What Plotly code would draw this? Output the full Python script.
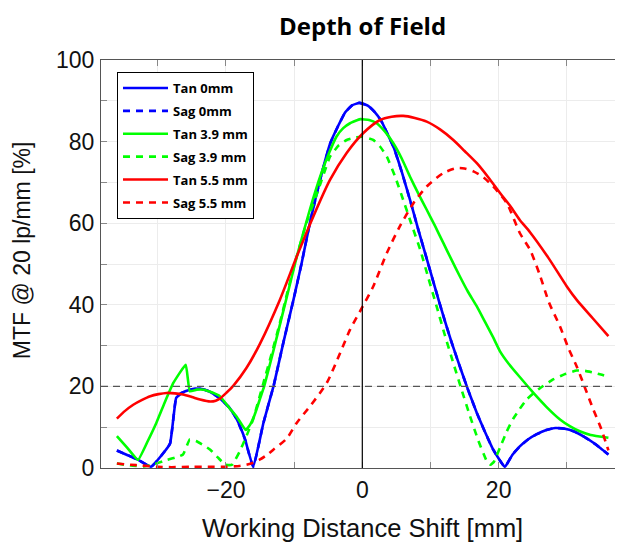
import plotly.graph_objects as go

# ---- data ----
tan0_x = [-36, -34.5, -33, -31, -29.5, -28.2, -27.3, -26.5, -25.3, -23.8, -22.5, -21, -19.5, -18.4, -17.2, -16,
          -14.5, -13, -11.6, -10.1, -8.9, -7.7, -6.2, -4.7, -3.5, -2.5, -1.5, -0.4, 0.8, 1.8, 2.8, 3.8, 4.6, 5.8,
          7, 8.2, 9.5, 10.7, 11.9, 13.1, 14.3, 15.5, 16.8, 18, 19.2, 20.9, 22, 23.1, 24.3, 25.6, 27, 28.3, 29.7,
          31, 32.5, 33.9, 35, 36.1]
tan0_y = [4.3, 3.2, 2.1, 0.3, 3.0, 6.0, 17.2, 18.4, 19.2, 19.5, 18.8, 17.2, 14.8, 11.9, 7.0, 0.3,
          11.1, 20.2, 30.6, 41.2, 50.2, 60.0, 70.6, 79.6, 84.0, 87.2, 88.9, 89.5, 88.8, 87.3, 85.0, 81.5, 78.6, 72.5,
          65.7, 58.5, 51.0, 44.0, 37.2, 30.8, 24.9, 19.2, 13.5, 8.8, 4.5, 0.3, 3.2, 5.3, 7.0, 8.3, 9.3, 9.8, 9.6,
          9.0, 7.7, 6.2, 4.8, 3.3]

sag0_x = list(tan0_x)
sag0_y = [4.3, 3.2, 2.1, 0.3, 3.0, 6.0, 17.2, 18.4, 19.2, 19.5, 18.8, 17.2, 14.8, 11.9, 7.0, 0.3,
          11.1, 20.2, 30.6, 41.2, 50.2, 60.0, 70.6, 79.6, 84.0, 87.2, 88.9, 89.5, 88.8, 87.3, 85.0, 81.5, 78.6, 72.5,
          65.7, 58.5, 51.0, 44.0, 37.2, 30.8, 24.9, 19.2, 13.5, 8.8, 4.5, 0.3, 3.2, 5.3, 7.0, 8.3, 9.3, 9.8, 9.6,
          9.0, 7.7, 6.2, 4.8, 3.3]

tan39_x = [-36, -34.5, -32.9, -31.5, -30.2, -29, -27.7, -25.9, -25.3, -24.3, -23.3, -22, -20.9, -19.4, -18.4,
           -17.1, -16.5, -15.8, -15, -14.4, -13, -11.3, -9.6, -7.7, -6, -4.8, -3.8, -2.8, -1.8, -0.3, 1, 2.1, 3.3,
           4.55, 5.8, 7, 8.2, 9.45, 10.7, 11.9, 13.1, 14.3, 15.5, 16.8, 18, 19.2, 20.2, 21.5, 23.1, 25.1, 27, 29,
           30.5, 31.9, 33.5, 36.1]
tan39_y = [7.8, 5.0, 2.0, 6.5, 11.1, 16.0, 20.9, 25.3, 18.8, 19.2, 19.2, 18.5, 17.6, 14.5, 12.5,
           9.3, 10.5, 13.0, 17.0, 20.0, 29.0, 40.4, 51.9, 63.3, 72.3, 77.5, 81.2, 83.3, 84.5, 85.5, 85.3, 84.5, 82.5,
           79.6, 75.8, 71.4, 67.3, 63.3, 59.2, 55.1, 51.0, 47.0, 43.2, 39.6, 35.8, 32.0, 28.6, 25.5, 22.3, 18.4, 15.0,
           11.9, 10.2, 9.0, 8.1, 7.4]

sag39_x = [-36, -34, -32, -30.9, -29.2, -27.5, -26.3, -25.3, -24.4, -23.3, -22.3, -21.2, -20.1, -19.1, -18, -17,
           -16, -14.5, -13.3, -12.1, -11, -9.9, -8.2, -6.45, -4.74, -3.5, -2.3, -1, 0, 1.6, 2.6, 3.6, 4.8, 6, 7.2,
           8.5, 9.7, 10.9, 12.1, 13.35, 14.6, 15.8, 17, 18.25, 18.8, 19.3, 20.2, 21.2, 22.1, 23.1, 24.1, 26, 28,
           29.7, 31.45, 32.7, 33.9, 35, 36.1]
sag39_y = [1.1, 0.6, 0.4, 0.7, 1.7, 2.5, 3.3, 7.0, 6.6, 5.6, 4.5, 2.6, 0.8, 0.8, 4.0, 7.8,
           12.0, 20.9, 28.0, 35.5, 43.0, 50.2, 60.0, 68.2, 76.3, 79.0, 80.4, 81.0, 81.2, 80.4, 78.8, 76.3, 71.5, 65.7,
           59.8, 53.5, 46.5, 39.6, 32.6, 25.7, 19.0, 12.7, 6.8, 1.7, 0.8, 1.5, 5.0, 9.0, 12.0, 14.5, 16.8, 19.5, 21.7,
           23.0, 23.9, 23.8, 23.4, 22.9, 22.3]

tan55_x = [-36, -34.8, -33.6, -32.3, -31.1, -29.9, -28.7, -27.5, -26.3, -25, -23.8, -22.3, -21.5, -20.9, -19.9,
           -18.9, -17, -15, -12.1, -9.6, -7.2, -4.74, -2.3, 0.15, 2.6, 4.3, 6, 7.7, 9.45, 11.4, 13.35, 15, 16.8,
           18.5, 20.2, 21.7, 23.1, 24.6, 27.3, 30, 31.45, 33.8, 36.1]
tan55_y = [12.1, 14.0, 15.5, 16.7, 17.6, 18.1, 18.4, 18.3, 18.0, 17.4, 16.8, 16.3, 16.5, 17.0, 18.5,
           20.2, 24.5, 30.5, 41.2, 51.9, 61.6, 70.6, 77.2, 82.1, 85.3, 86.1, 86.3, 85.8, 84.9, 83.0, 80.4, 77.7, 74.7,
           71.2, 67.4, 64.2, 60.8, 57.8, 51.5, 44.5, 41.2, 36.7, 32.3]

sag55_x = [-36, -34, -32.3, -30, -28, -25, -22, -20, -18, -17, -16, -15, -14, -13.05, -11.1, -9.6, -7.5, -5.2,
           -3.25, -1.8, -0.3, 1.6, 3.6, 5.5, 7.5, 9.45, 11.9, 13.85, 15, 16.3, 17.8, 19.2, 21.2, 23.1, 24.6, 26,
           27.4, 29, 30.2, 31.45, 32.7, 33.9, 35, 36.1]
sag55_y = [1.1, 0.8, 0.6, 0.3, 0.2, 0.3, 0.3, 0.3, 0.5, 0.8, 1.3, 2.1, 3.2, 4.5, 7.2, 11.1, 15.5, 20.9,
           28.2, 33.9, 38.5, 44.5, 52.7, 59.2, 64.9, 69.0, 72.3, 73.5, 73.4, 72.7, 71.2, 69.0, 64.9, 57.6, 53.5, 47.5,
           40.5, 34.7, 29.5, 24.9, 19.5, 14.3, 9.8, 4.3]

series_names = ["Tan 0mm", "Sag 0mm", "Tan 3.9 mm", "Sag 3.9 mm", "Tan 5.5 mm", "Sag 5.5 mm"]
series_x = [tan0_x, sag0_x, tan39_x, sag39_x, tan55_x, sag55_x]
series_y = [tan0_y, sag0_y, tan39_y, sag39_y, tan55_y, sag55_y]
series_color = ["#0000ff", "#0000ff", "#00ff00", "#00ff00", "#ff0000", "#ff0000"]
series_dash = ["solid", "7px,6px", "solid", "7px,6px", "solid", "7px,6px"]
series_smooth = [0.35, 0.35, 0.35, 0.35, 0.7, 0.7]

x_ticks = [-20, 0, 20]
y_ticks = [0, 20, 40, 60, 80, 100]
threshold = 20

# page body has an 8px margin, so figure coords = page coords - 8
W, H = 615, 536
L, R, T, B = 93, 0, 52, 76
PW, PH = W - L - R, H - T - B
x_range = [-38.33, 38.24]
y_range = [0, 100]


def px(xf):
    return (xf - L) / PW


def py(yf):
    return (H - B - yf) / PH


fig = go.Figure()
for i in range(len(series_names)):
    fig.add_trace(go.Scatter(
        x=series_x[i], y=series_y[i], mode="lines", name=series_names[i],
        legendgroup=f"g{i}",
        line=dict(color=series_color[i], width=2.6, dash=series_dash[i],
                  shape="spline", smoothing=series_smooth[i]),
    ))

# reference lines
fig.add_shape(type="line", xref="paper", yref="y", x0=0, x1=1, y0=threshold, y1=threshold,
              line=dict(color="#555555", width=1.3, dash="7px,5px"), layer="above")
fig.add_shape(type="line", xref="x", yref="paper", x0=0, x1=0, y0=0, y1=1,
              line=dict(color="black", width=1.2), layer="above")

tick_font = dict(family="Liberation Sans", size=23, color="#111111")

fig.update_layout(
    width=W, height=H,
    margin=dict(l=L, r=R, t=T, b=B, pad=0),
    paper_bgcolor="white", plot_bgcolor="white",
    showlegend=True,
    legend=dict(
        x=px(109), y=py(64), xanchor="left", yanchor="top",
        bgcolor="white", bordercolor="black", borderwidth=1,
        font=dict(family="Open Sans", size=13, color="black", weight="bold"),
        tracegroupgap=3, itemwidth=45,
    ),
    annotations=[
        dict(text="<b>Depth of Field</b>", xref="paper", yref="paper",
             x=px(354.5), y=py(0), xanchor="center", yanchor="top", showarrow=False,
             borderpad=0, font=dict(family="Open Sans", size=24, color="black")),
        dict(text="Working Distance Shift [mm]", xref="paper", yref="paper",
             x=px(354), y=py(520), xanchor="center", yanchor="middle", showarrow=False,
             font=dict(family="Liberation Sans", size=25.5, color="#111111")),
        dict(text="MTF @ 20 lp/mm [%]", xref="paper", yref="paper", textangle=-90,
             x=px(13.7), y=py(242.5), xanchor="center", yanchor="middle", showarrow=False,
             font=dict(family="Liberation Sans", size=23, color="#111111")),
    ],
)

fig.update_xaxes(
    range=x_range, tickvals=x_ticks, ticks="inside", ticklen=6, tickcolor="#888888",
    showline=True, linecolor="#555555", linewidth=1.2, mirror="ticks",
    showgrid=True, gridcolor="#ececec", gridwidth=1, zeroline=False,
    tickfont=tick_font, ticklabelstandoff=1,
    minor=dict(dtick=10, tick0=0, ticks="inside", ticklen=6, tickcolor="#888888",
               showgrid=True, gridcolor="#ececec", gridwidth=1),
)
fig.update_yaxes(
    range=y_range, tickvals=y_ticks, ticks="inside", ticklen=6, tickcolor="#888888",
    showline=True, linecolor="#555555", linewidth=1.2, mirror="ticks",
    showgrid=True, gridcolor="#ececec", gridwidth=1, zeroline=False,
    tickfont=tick_font, ticklabelstandoff=1,
    minor=dict(dtick=10, tick0=0, ticks="inside", ticklen=6, tickcolor="#888888",
               showgrid=True, gridcolor="#ececec", gridwidth=1),
)

fig.write_html("out.html")
